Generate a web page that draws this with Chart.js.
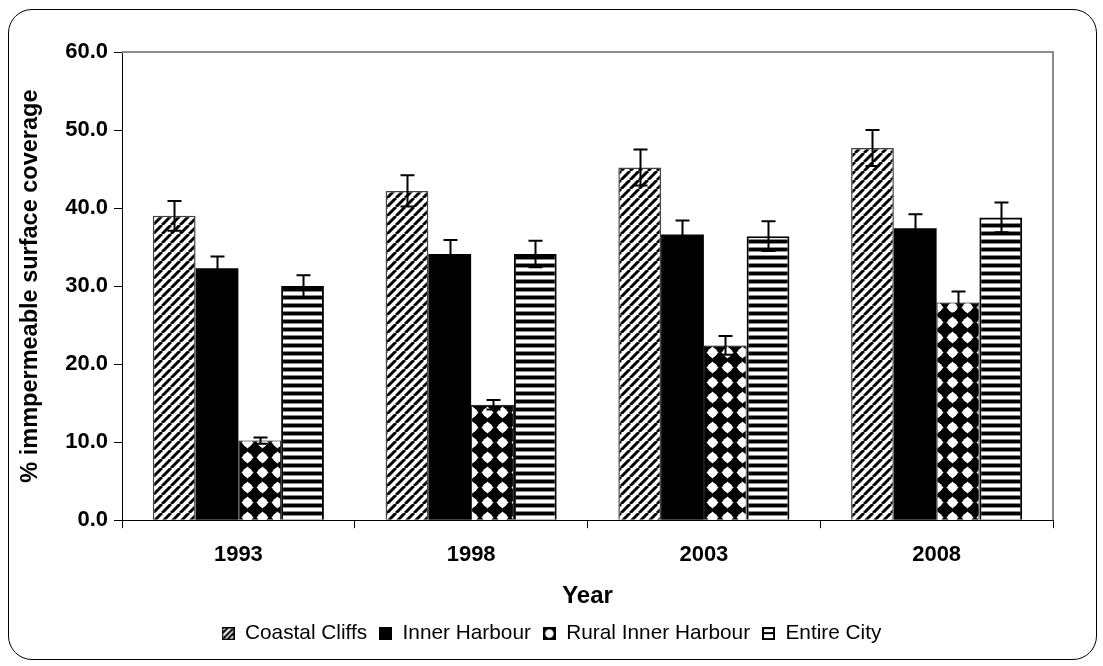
<!DOCTYPE html>
<html>
<head>
<meta charset="utf-8">
<script src="https://cdn.jsdelivr.net/npm/chart.js@4.4.0/dist/chart.umd.min.js"></script>
<style>
  body { margin: 0; background: #fff; }
  #wrap { position: relative; width: 1103px; height: 666px; }
  #frame {
    position: absolute; left: 8px; top: 9px; width: 1087px; height: 649px;
    border: 1.5px solid #000; border-radius: 24px; pointer-events: none;
  }
</style>
</head>
<body>
<div id="wrap">
  <canvas id="chart" width="1103" height="666"></canvas>
  <div id="frame"></div>
</div>
<script>
// === Datos ===
const years = ['1993', '1998', '2003', '2008'];
const coastalCliffs = [39.0, 42.2, 45.2, 47.7];
const innerHarbour = [32.3, 34.1, 36.6, 37.4];
const ruralInnerHarbour = [10.2, 14.8, 22.4, 27.9];
const entireCity = [30.0, 34.1, 36.4, 38.8];

// barras de error (+/-)
const coastalErr = [1.9, 2.0, 2.3, 2.3];
const innerErr = [1.5, 1.8, 1.8, 1.8];
const ruralErr = [0.4, 0.6, 1.2, 1.4];
const entireErr = [1.4, 1.7, 1.9, 1.9];

const yTicks = [0, 10, 20, 30, 40, 50, 60];

// === Tramas ===
function makeCanvas(w, h, draw) {
  const c = document.createElement('canvas');
  c.width = w;
  c.height = h;
  draw(c.getContext('2d'), w, h);
  return c;
}

function makePattern(w, h, draw) {
  return ctx.createPattern(makeCanvas(w, h, draw), 'repeat');
}

function drawDiag(g, w, h) {
  g.fillStyle = '#fff';
  g.fillRect(0, 0, w, h);
  g.strokeStyle = '#000';
  g.lineWidth = 3;
  [-w, 0, w].forEach(o => {
    g.beginPath();
    g.moveTo(o, h);
    g.lineTo(o + w, 0);
    g.stroke();
  });
}

function drawDot(g, w, h) {
  g.fillStyle = '#000';
  g.fillRect(0, 0, w, h);
  g.fillStyle = '#fff';
  g.beginPath();
  g.moveTo(7.5, 1.5);
  g.lineTo(13.5, 7.5);
  g.lineTo(7.5, 13.5);
  g.lineTo(1.5, 7.5);
  g.closePath();
  g.fill();
  g.beginPath();
  g.arc(7.5, 7.5, 4.6, 0, Math.PI * 2);
  g.fill();
}

function drawStripes(g, w, h) {
  g.fillStyle = '#fff';
  g.fillRect(0, 0, w, h);
  g.fillStyle = '#000';
  g.fillRect(0, 0, w, 3);
  g.fillStyle = '#888';
  g.fillRect(0, 3, w, 1);
  g.fillRect(0, 7, w, 1);
}

const ctx = document.getElementById('chart').getContext('2d');

const diagonal = makePattern(9, 9, drawDiag);
const dots = makePattern(15, 15, drawDot);
const hstripes = makePattern(4, 8, drawStripes);

// iconos de la leyenda
const legendIcons = [
  makeCanvas(13, 13, (g) => {
    g.fillStyle = '#fff';
    g.fillRect(0, 0, 13, 13);
    g.strokeStyle = '#000';
    g.lineWidth = 2;
    g.beginPath();
    g.moveTo(2, 11); g.lineTo(11, 2);
    g.moveTo(6, 12); g.lineTo(12, 6);
    g.moveTo(1, 6); g.lineTo(6, 1);
    g.stroke();
    g.lineWidth = 1.5;
    g.strokeRect(0.75, 0.75, 11.5, 11.5);
  }),
  makeCanvas(13, 13, (g) => {
    g.fillStyle = '#000';
    g.fillRect(0, 0, 13, 13);
  }),
  makeCanvas(13, 13, (g) => {
    g.fillStyle = '#000';
    g.fillRect(0, 0, 13, 13);
    g.fillStyle = '#fff';
    g.beginPath();
    g.arc(6.5, 6.5, 4.2, 0, Math.PI * 2);
    g.fill();
  }),
  makeCanvas(13, 13, (g) => {
    g.fillStyle = '#fff';
    g.fillRect(0, 0, 13, 13);
    g.fillStyle = '#000';
    g.fillRect(0, 0, 13, 2);
    g.fillRect(0, 5, 13, 2);
    g.fillRect(0, 11, 13, 2);
    g.fillRect(0, 0, 2, 13);
    g.fillRect(11, 0, 2, 13);
  })
];

// === Plugins ===
const errorBars = {
  id: 'errorBars',
  afterDatasetsDraw(chart) {
    const c = chart.ctx;
    const y = chart.scales.y;
    c.save();
    c.strokeStyle = '#000';
    c.lineWidth = 2;
    chart.data.datasets.forEach((ds, i) => {
      const meta = chart.getDatasetMeta(i);
      meta.data.forEach((bar, j) => {
        const v = ds.data[j];
        const e = ds.errors[j];
        const top = y.getPixelForValue(v + e);
        const bot = y.getPixelForValue(v - e);
        const x = Math.round(bar.x) + 0.5;
        c.beginPath();
        c.moveTo(x, top);
        c.lineTo(x, bot);
        c.moveTo(x - 7, top);
        c.lineTo(x + 7, top);
        c.moveTo(x - 7, bot);
        c.lineTo(x + 7, bot);
        c.stroke();
      });
    });
    c.restore();
  }
};

const plotFrame = {
  id: 'plotFrame',
  beforeDatasetsDraw(chart) {
    const { ctx: c, chartArea: a } = chart;
    c.save();
    c.strokeStyle = '#8c8c8c';
    c.lineWidth = 2;
    c.beginPath();
    c.moveTo(a.left, a.top);
    c.lineTo(a.right, a.top);
    c.lineTo(a.right, a.bottom);
    c.stroke();
    c.restore();
  }
};

// centrar la leyenda en todo el ancho del lienzo
const legendShift = {
  id: 'legendShift',
  afterLayout(chart) {
    const lg = chart.legend;
    const dx = (chart.width - lg.right - lg.left) / 2;
    lg.left += dx;
    lg.right += dx;
  }
};

// === Gráfico ===
Chart.defaults.font.family = '"Liberation Sans", Arial, sans-serif';
Chart.defaults.color = '#000';

new Chart(ctx, {
  type: 'bar',
  data: {
    labels: years,
    datasets: [
      { label: 'Coastal Cliffs', data: coastalCliffs, errors: coastalErr,
        backgroundColor: diagonal, borderColor: '#444', borderWidth: 1.5 },
      { label: 'Inner Harbour', data: innerHarbour, errors: innerErr,
        backgroundColor: '#000', borderColor: '#000', borderWidth: 0 },
      { label: 'Rural Inner Harbour', data: ruralInnerHarbour, errors: ruralErr,
        backgroundColor: dots, borderColor: '#000', borderWidth: 1 },
      { label: 'Entire City', data: entireCity, errors: entireErr,
        backgroundColor: hstripes, borderColor: '#000', borderWidth: 2 }
    ]
  },
  options: {
    responsive: false,
    animation: false,
    categoryPercentage: 0.735,
    barPercentage: 1,
    layout: { padding: { top: 52, right: 50, left: 12, bottom: 12 } },
    plugins: {
      legend: {
        position: 'bottom',
        labels: {
          font: { size: 20.8 },
          boxWidth: 13,
          boxHeight: 13,
          padding: 12,
          usePointStyle: true,
          generateLabels: chart => {
            const items = Chart.defaults.plugins.legend.labels.generateLabels(chart);
            items.forEach((it, i) => { it.pointStyle = legendIcons[i]; });
            return items;
          }
        }
      },
      tooltip: { enabled: false }
    },
    scales: {
      x: {
        afterFit: s => { s.height = 91; },
        border: { color: '#000', width: 1 },
        grid: { display: true, drawOnChartArea: false, color: '#000', tickLength: 8 },
        ticks: { font: { size: 22, weight: 'bold' }, padding: 14 },
        title: { display: true, text: 'Year', font: { size: 24, weight: 'bold' },
                 padding: { top: 0, bottom: 0 } }
      },
      y: {
        min: 0,
        max: 60,
        afterFit: s => { s.width = 110; },
        afterBuildTicks: s => { s.ticks = yTicks.map(v => ({ value: v })); },
        border: { color: '#000', width: 1 },
        grid: { display: true, drawOnChartArea: false, color: '#000', tickLength: 8 },
        ticks: { font: { size: 22, weight: 'bold' }, padding: 6,
                 callback: v => v.toFixed(1) },
        title: { display: true, text: '% immpermeable surface coverage',
                 font: { size: 23.5, weight: 'bold' }, padding: { top: 4, bottom: 4 } }
      }
    }
  },
  plugins: [plotFrame, errorBars, legendShift]
});
</script>
</body>
</html>
